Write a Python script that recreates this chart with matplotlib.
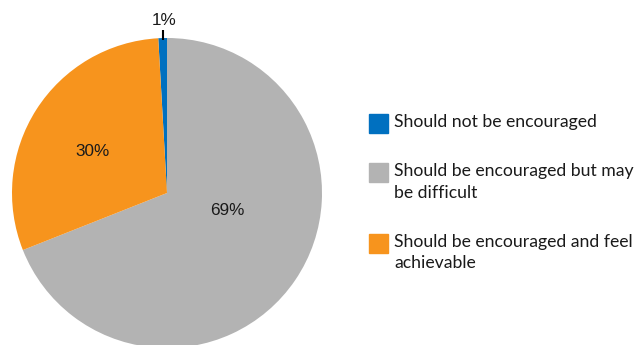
import matplotlib.pyplot as plt
from matplotlib.patches import Rectangle

# Data
categories = ['Should not be encouraged',
              'Should be encouraged but may\nbe difficult',
              'Should be encouraged and feel\nachievable']
shares = [0.9, 69.0, 30.1]
pct_labels = ['1%', '69%', '30%']
colors = ['#0070C0', '#B3B3B3', '#F7941D']

W, H = 635, 345
fig = plt.figure(figsize=(W / 100, H / 100), dpi=100)

# pie axes: centre (167, 193) px, radius 155 px
cx, cy, r = 167, 193, 155
ax = fig.add_axes([(cx - r) / W, (H - cy - r) / H, 2 * r / W, 2 * r / H])
ax.pie(shares, colors=colors, startangle=90 + 3.6 * shares[0],
       counterclock=False, radius=1,
       wedgeprops=dict(linewidth=0))
ax.set_xlim(-1, 1)
ax.set_ylim(-1, 1)
ax.set_aspect('equal')
ax.axis('off')

# percent labels
label_pos = [(-0.02, 1.11), (0.39, -0.11), (-0.48, 0.27)]
for txt, (x, y) in zip(pct_labels, label_pos):
    ax.text(x, y, txt, ha='center', va='center', fontsize=12.3,
            family='Liberation Sans', color='#1a1a1a')
ax.plot([-0.025, -0.025], [0.985, 1.05], color='black', lw=1.5,
        clip_on=False, solid_capstyle='butt')

# legend drawn by hand
box_y = [123, 172, 243]
text_y = [122, 182, 252.5]
for lab, col, by, ty in zip(categories, colors, box_y, text_y):
    fig.patches.append(Rectangle((369 / W, (H - by - 9.5) / H), 19 / W, 19 / H,
                                 transform=fig.transFigure, color=col))
    fig.text(394 / W, (H - ty) / H, lab, ha='left', va='center',
             fontsize=12.7, family='Lato', color='#1a1a1a', linespacing=1.45,
             transform=fig.transFigure)

fig.savefig('out.png', dpi=100)
